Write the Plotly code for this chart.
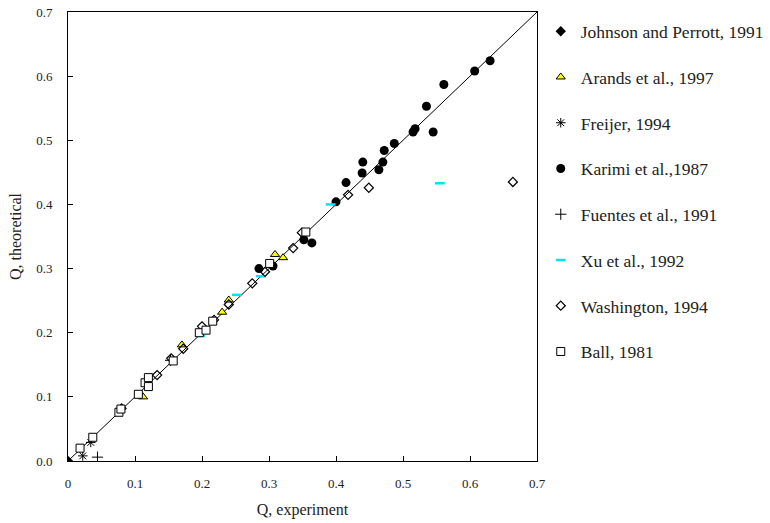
import plotly.graph_objects as go

# ---- data ----
johnson_x = [0.0]
johnson_y = [0.0]

arands_x = [0.112, 0.170, 0.230, 0.240, 0.309, 0.321]
arands_y = [0.100, 0.181, 0.232, 0.251, 0.322, 0.317]

freijer_x = [0.034, 0.022]
freijer_y = [0.029, 0.008]

karimi_x = [0.630, 0.607, 0.561, 0.535, 0.515, 0.518, 0.545, 0.487, 0.472, 0.440,
            0.470, 0.464, 0.439, 0.415, 0.400, 0.352, 0.364, 0.306, 0.285]
karimi_y = [0.624, 0.608, 0.587, 0.553, 0.513, 0.518, 0.513, 0.495, 0.484, 0.466,
            0.466, 0.454, 0.449, 0.434, 0.404, 0.345, 0.340, 0.304, 0.300]

fuentes_x = [0.044, 0.153]
fuentes_y = [0.006, 0.157]

xu_x = [0.555, 0.392, 0.288, 0.252, 0.197]
xu_y = [0.433, 0.400, 0.288, 0.259, 0.195]

washington_x = [0.664, 0.449, 0.418, 0.349, 0.336, 0.294, 0.275, 0.240, 0.218, 0.200,
                0.172, 0.154, 0.133, 0.080]
washington_y = [0.435, 0.426, 0.415, 0.356, 0.332, 0.295, 0.277, 0.244, 0.220, 0.210,
                0.175, 0.160, 0.134, 0.082]

ball_x = [0.018, 0.037, 0.076, 0.079, 0.105, 0.115, 0.120, 0.120, 0.157, 0.196,
          0.206, 0.216, 0.301, 0.355]
ball_y = [0.020, 0.037, 0.076, 0.081, 0.104, 0.122, 0.130, 0.116, 0.156, 0.200,
          0.204, 0.218, 0.308, 0.357]

line_x = [0.0, 0.7]
line_y = [0.0, 0.7]

x_ticks = [0, 0.1, 0.2, 0.3, 0.4, 0.5, 0.6, 0.7]
x_ticktext = ["0", "0.1", "0.2", "0.3", "0.4", "0.5", "0.6", "0.7"]
y_ticks = [0, 0.1, 0.2, 0.3, 0.4, 0.5, 0.6, 0.7]
y_ticktext = ["0.0", "0.1", "0.2", "0.3", "0.4", "0.5", "0.6", "0.7"]

FONT = "Liberation Serif"
TXT = "#222222"

fig = go.Figure()

fig.add_trace(go.Scatter(x=line_x, y=line_y, mode="lines",
                         line=dict(color="black", width=1), showlegend=False,
                         hoverinfo="skip"))

series = [
    ("Johnson and Perrott, 1991", johnson_x, johnson_y,
     dict(symbol="diamond", size=8, color="black")),
    ("Arands et al., 1997", arands_x, arands_y,
     dict(symbol="triangle-up", size=8, color="#FFFF00", line=dict(color="black", width=1))),
    ("Freijer, 1994", freijer_x, freijer_y,
     dict(symbol="asterisk-open", size=8, color="black", line=dict(color="black", width=1))),
    ("Karimi et al.,1987", karimi_x, karimi_y,
     dict(symbol="circle", size=9, color="black")),
    ("Fuentes et al., 1991", fuentes_x, fuentes_y,
     dict(symbol="cross-thin-open", size=8, color="black", line=dict(color="black", width=1))),
    ("Xu et al., 1992", xu_x, xu_y,
     dict(symbol="line-ew-open", size=7, color="#00E5EE", line=dict(color="#00E5EE", width=2.5))),
    ("Washington, 1994", washington_x, washington_y,
     dict(symbol="diamond-open", size=7, color="black", line=dict(color="black", width=1.2))),
    ("Ball, 1981", ball_x, ball_y,
     dict(symbol="square", size=8, color="white", line=dict(color="black", width=1))),
]

for i, (name, xs, ys, mk) in enumerate(series):
    fig.add_trace(go.Scatter(x=xs, y=ys, mode="markers", name=name, marker=mk,
                             legendgroup=f"g{i}"))

fig.update_layout(
    template="none",
    width=770, height=523,
    margin=dict(l=68, r=233, t=12, b=62, autoexpand=False),
    plot_bgcolor="white", paper_bgcolor="white",
    font=dict(family=FONT, color=TXT, size=13),
    showlegend=True,
    legend=dict(x=1.008, y=0.997, xanchor="left", yanchor="top",
                font=dict(family=FONT, size=17.5, color=TXT),
                tracegroupgap=20, itemwidth=30, bgcolor="rgba(0,0,0,0)",
                borderwidth=0, maxheight=520),
    xaxis=dict(range=[0, 0.7], tickmode="array", tickvals=x_ticks, ticktext=x_ticktext,
               showgrid=False, zeroline=False, showline=True, linecolor="black",
               linewidth=1, mirror=True, ticks="inside", ticklen=5, tickcolor="black",
               ticklabelstandoff=10, tickfont=dict(family=FONT, size=13, color=TXT),
               title=dict(text="Q, experiment", font=dict(family=FONT, size=16, color=TXT),
                          standoff=14)),
    yaxis=dict(range=[0, 0.7], tickmode="array", tickvals=y_ticks, ticktext=y_ticktext,
               showgrid=False, zeroline=False, showline=True, linecolor="black",
               linewidth=1, mirror=True, ticks="inside", ticklen=5, tickcolor="black",
               ticklabelstandoff=12, tickfont=dict(family=FONT, size=13, color=TXT),
               title=dict(text="Q, theoretical", font=dict(family=FONT, size=16, color=TXT),
                          standoff=10)),
)

fig.write_html("out.html")
